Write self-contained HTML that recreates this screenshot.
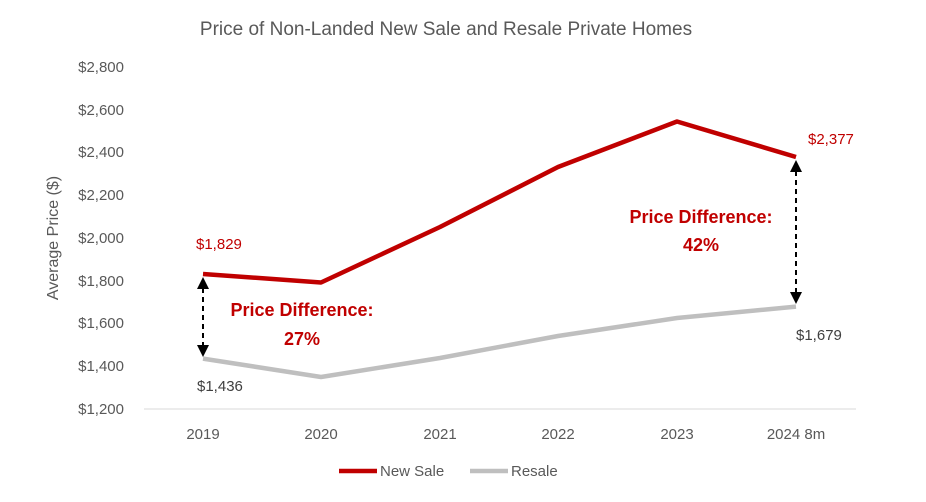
<!DOCTYPE html>
<html><head><meta charset="utf-8"><style>
body{margin:0;background:#fff}
svg{display:block;font-family:"Liberation Sans",sans-serif}
</style></head><body>
<svg width="926" height="502" viewBox="0 0 926 502">
<rect width="926" height="502" fill="#fff"/>
<text x="446" y="35" text-anchor="middle" font-size="19" fill="#595959">Price of Non-Landed New Sale and Resale Private Homes</text>
<g font-size="15" fill="#595959" text-anchor="end">
<text x="124" y="72">$2,800</text>
<text x="124" y="115">$2,600</text>
<text x="124" y="157">$2,400</text>
<text x="124" y="200">$2,200</text>
<text x="124" y="243">$2,000</text>
<text x="124" y="286">$1,800</text>
<text x="124" y="328">$1,600</text>
<text x="124" y="371">$1,400</text>
<text x="124" y="414">$1,200</text>
</g>
<text transform="translate(58,238) rotate(-90)" text-anchor="middle" font-size="16" fill="#595959">Average Price ($)</text>
<line x1="144" y1="409" x2="856" y2="409" stroke="#d9d9d9" stroke-width="1"/>
<g font-size="15" fill="#595959" text-anchor="middle">
<text x="203" y="439">2019</text>
<text x="321" y="439">2020</text>
<text x="440" y="439">2021</text>
<text x="558" y="439">2022</text>
<text x="677" y="439">2023</text>
<text x="796" y="439">2024 8m</text>
</g>
<polyline points="203,358.6 321,377 440,358 558,336 677,318 796,306.6" fill="none" stroke="#bfbfbf" stroke-width="4.5" stroke-linejoin="round"/>
<polyline points="203,274 321,282.5 440,227 558,167 677,121.5 796,157" fill="none" stroke="#c00000" stroke-width="4.5" stroke-linejoin="round"/>
<g stroke="#000" stroke-width="2" stroke-dasharray="5,4">
<line x1="203" y1="288" x2="203" y2="346"/>
<line x1="796" y1="171" x2="796" y2="292"/>
</g>
<g fill="#000">
<polygon points="203,277 197,289 209,289"/>
<polygon points="203,357 197,345 209,345"/>
<polygon points="796,160 790,172 802,172"/>
<polygon points="796,304 790,292 802,292"/>
</g>
<g font-size="15">
<text x="196" y="249" fill="#c00000">$1,829</text>
<text x="197" y="391" fill="#404040">$1,436</text>
<text x="808" y="144" fill="#c00000">$2,377</text>
<text x="796" y="340" fill="#404040">$1,679</text>
</g>
<g font-size="18" font-weight="bold" fill="#c00000" text-anchor="middle">
<text x="302" y="316">Price Difference:</text>
<text x="302" y="345">27%</text>
<text x="701" y="223">Price Difference:</text>
<text x="701" y="251">42%</text>
</g>
<line x1="339" y1="471" x2="377" y2="471" stroke="#c00000" stroke-width="4.5"/>
<text x="380" y="476" font-size="15" fill="#595959">New Sale</text>
<line x1="470" y1="471" x2="508" y2="471" stroke="#bfbfbf" stroke-width="4.5"/>
<text x="511" y="476" font-size="15" fill="#595959">Resale</text>
</svg>
</body></html>
